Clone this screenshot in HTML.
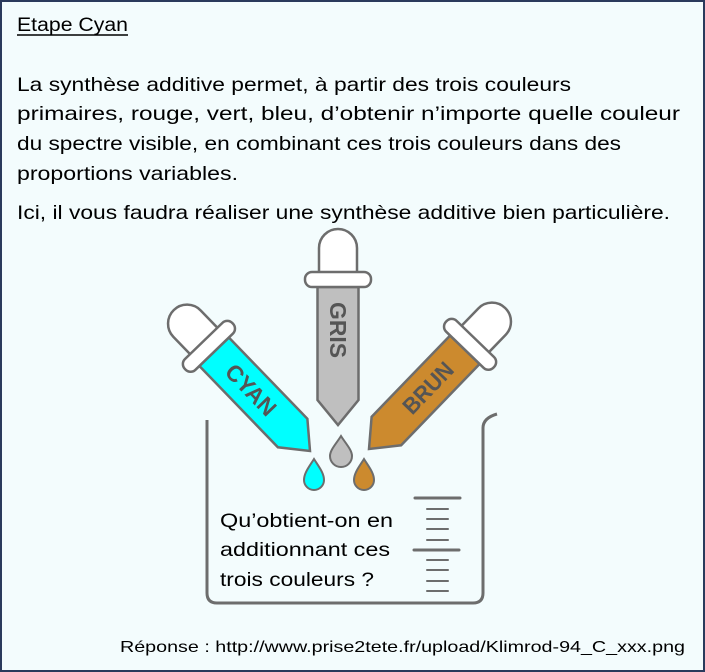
<!DOCTYPE html>
<html><head><meta charset="utf-8"><style>
html,body{margin:0;padding:0;}
body{width:705px;height:672px;overflow:hidden;background:#f3fcfd;}
svg{display:block}
text{font-family:"Liberation Sans",sans-serif;fill:#000;}
</style></head><body>
<svg width="705" height="672" viewBox="0 0 705 672" xmlns="http://www.w3.org/2000/svg">
<rect x="1" y="1" width="703" height="670" fill="#f3fcfd" stroke="#2a3a5c" stroke-width="2"/>
<text x="17" y="31" font-size="19" textLength="111" lengthAdjust="spacingAndGlyphs">Etape Cyan</text>
<line x1="17" y1="35" x2="128" y2="35" stroke="#000" stroke-width="1.5"/>
<g font-size="19.5">
<text x="17" y="91" textLength="554" lengthAdjust="spacingAndGlyphs">La synthèse additive permet, à partir des trois couleurs</text>
<text x="17" y="120" textLength="663" lengthAdjust="spacingAndGlyphs">primaires, rouge, vert, bleu, d’obtenir n’importe quelle couleur</text>
<text x="17" y="150" textLength="604" lengthAdjust="spacingAndGlyphs">du spectre visible, en combinant ces trois couleurs dans des</text>
<text x="17" y="180" textLength="221" lengthAdjust="spacingAndGlyphs">proportions variables.</text>
<text x="17" y="219" textLength="653" lengthAdjust="spacingAndGlyphs">Ici, il vous faudra réaliser une synthèse additive bien particulière.</text>
</g>
<g fill="none" stroke="#6d6d6d" stroke-width="3">
<path d="M207 420 V593 Q207 603 217 603 H473 Q483 603 483 593 V428 Q483 418 497 414"/>
</g>
<g stroke="#6d6d6d" stroke-linecap="round">
<line x1="415" y1="498" x2="460" y2="498" stroke-width="3"/>
<line x1="427" y1="509" x2="448" y2="509" stroke-width="2"/>
<line x1="427" y1="519" x2="448" y2="519" stroke-width="2"/>
<line x1="427" y1="529" x2="448" y2="529" stroke-width="2"/>
<line x1="427" y1="540" x2="448" y2="540" stroke-width="2"/>
<line x1="414" y1="550" x2="459" y2="550" stroke-width="3"/>
<line x1="427" y1="560" x2="448" y2="560" stroke-width="2"/>
<line x1="427" y1="570" x2="448" y2="570" stroke-width="2"/>
<line x1="427" y1="581" x2="448" y2="581" stroke-width="2"/>
<line x1="427" y1="591" x2="448" y2="591" stroke-width="2"/>
</g>
<g font-size="19.5">
<text x="220" y="527" textLength="173" lengthAdjust="spacingAndGlyphs">Qu’obtient-on en</text>
<text x="220" y="556" textLength="170" lengthAdjust="spacingAndGlyphs">additionnant ces</text>
<text x="220" y="586" textLength="154" lengthAdjust="spacingAndGlyphs">trois couleurs ?</text>
</g>
<text x="120" y="652" font-size="16" textLength="565" lengthAdjust="spacingAndGlyphs">Réponse : http://www.prise2tete.fr/upload/Klimrod-94_C_xxx.png</text>
<defs>
<g id="top">
<path d="M-19 -150 V-177 A19 19 0 0 1 19 -177 V-150 Z" fill="#fff" stroke="#6d6d6d" stroke-width="2.5"/>
</g>
</defs>
<g transform="translate(338,425)">
<use href="#top"/>
<path d="M-20.5 -138 V-25 L0 0 L20.5 -25 V-138 Z" fill="#bfbfbf" stroke="#6d6d6d" stroke-width="2.5"/>
<rect x="-33" y="-153" width="66" height="15" rx="7" fill="#fff" stroke="#6d6d6d" stroke-width="2.5"/>
<text transform="translate(0,-95) rotate(90)" font-size="23" font-weight="bold" text-anchor="middle" dy="8" textLength="56" lengthAdjust="spacingAndGlyphs" style="fill:#555">GRIS</text>
</g>
<g transform="translate(310,451) rotate(-44)">
<use href="#top"/>
<path d="M-20.5 -138 V-25 L0 0 L20.5 -25 V-138 Z" fill="#00ffff" stroke="#6d6d6d" stroke-width="2.5"/>
<rect x="-33" y="-153" width="66" height="15" rx="7" fill="#fff" stroke="#6d6d6d" stroke-width="2.5"/>
<text transform="translate(0,-85) rotate(90)" font-size="23" font-weight="bold" text-anchor="middle" dy="8" textLength="62" lengthAdjust="spacingAndGlyphs" style="fill:#555">CYAN</text>
</g>
<g transform="translate(369,449) rotate(44)">
<use href="#top"/>
<path d="M-20.5 -138 V-25 L0 0 L20.5 -25 V-138 Z" fill="#cc8a2e" stroke="#6d6d6d" stroke-width="2.5"/>
<rect x="-33" y="-153" width="66" height="15" rx="7" fill="#fff" stroke="#6d6d6d" stroke-width="2.5"/>
<text transform="translate(0,-85) rotate(-90)" font-size="23" font-weight="bold" text-anchor="middle" dy="8" textLength="62" lengthAdjust="spacingAndGlyphs" style="fill:#555">BRUN</text>
</g>
<g stroke="#6d6d6d" stroke-width="2">
<path d="M341 436 C346 444 352 450 352 456 A11 11 0 0 1 330 456 C330 450 336 444 341 436 Z" fill="#bfbfbf"/>
<path d="M314 459 C319 467 324 473 324 480 A10 10 0 0 1 304 480 C304 473 309 467 314 459 Z" fill="#00ffff"/>
<path d="M364 459 C369 467 374 473 374 480 A10 10 0 0 1 354 480 C354 473 359 467 364 459 Z" fill="#cc8a2e"/>
</g>
</svg>
</body></html>
